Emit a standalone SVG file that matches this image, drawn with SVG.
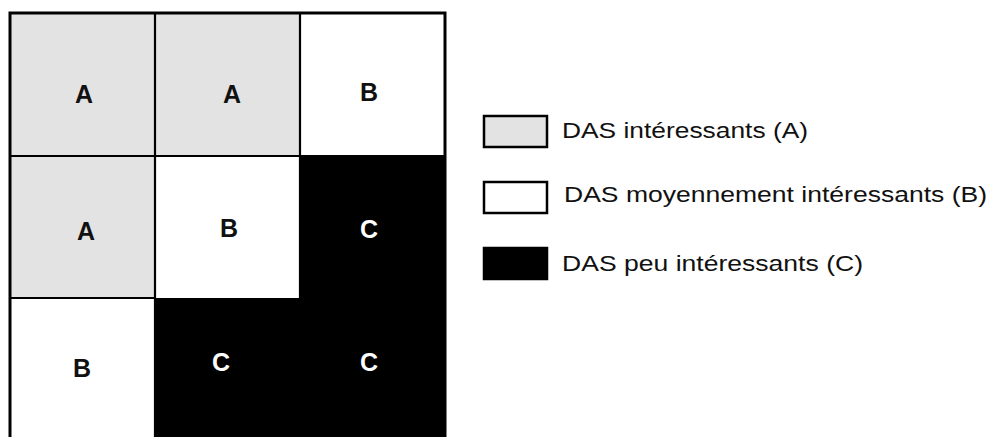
<svg xmlns="http://www.w3.org/2000/svg" width="995" height="437" viewBox="0 0 995 437">
<style>
.gray{fill:#e3e3e3}
.white{fill:#ffffff}
.black{fill:#000000}
.line{stroke:#000;stroke-width:2.2;fill:none}
.outer{stroke:#000;stroke-width:3;fill:none}
.cell{font-family:"Liberation Sans",Arial,sans-serif;font-weight:bold;font-size:25px;text-anchor:middle}
.dk{fill:#111}
.lt{fill:#fff}
.leg{font-family:"Liberation Sans",Arial,sans-serif;font-size:21.5px;fill:#111}
.box{stroke:#000;stroke-width:2.5}
</style>
<rect x="0" y="0" width="995" height="437" fill="#fff"/>
<g id="grid">
  <g id="cell-1-1"><rect class="gray" x="10" y="13" width="145" height="143"/><text class="cell dk" x="84" y="103">A</text></g>
  <g id="cell-1-2"><rect class="gray" x="155" y="13" width="145" height="143"/><text class="cell dk" x="232" y="103">A</text></g>
  <g id="cell-1-3"><rect class="white" x="300" y="13" width="145" height="143"/><text class="cell dk" x="369" y="101">B</text></g>
  <g id="cell-2-1"><rect class="gray" x="10" y="156" width="145" height="142"/><text class="cell dk" x="86" y="240">A</text></g>
  <g id="cell-2-2"><rect class="white" x="155" y="156" width="145" height="142"/><text class="cell dk" x="229" y="237">B</text></g>
  <g id="cell-2-3"><rect class="black" x="300" y="156" width="145" height="142"/><text class="cell lt" x="369" y="238">C</text></g>
  <g id="cell-3-1"><rect class="white" x="10" y="298" width="145" height="139"/><text class="cell dk" x="82" y="377">B</text></g>
  <g id="cell-3-2"><rect class="black" x="155" y="298" width="145" height="139"/><text class="cell lt" x="221" y="371">C</text></g>
  <g id="cell-3-3"><rect class="black" x="300" y="298" width="145" height="139"/><text class="cell lt" x="369" y="371">C</text></g>
  <g id="gridlines">
    <path class="line" d="M155,13 V437 M300,13 V298 M10,156 H445 M10,298 H155"/>
    <path class="outer" d="M10,437 V13 H445 V437"/>
  </g>
</g>
<g id="legend">
  <g id="legend-a"><rect class="gray box" x="484" y="116" width="63" height="31"/><text class="leg" x="562" y="138" textLength="246" lengthAdjust="spacingAndGlyphs">DAS intéressants (A)</text></g>
  <g id="legend-b"><rect class="white box" x="484" y="182" width="63" height="31"/><text class="leg" x="564" y="202" textLength="423" lengthAdjust="spacingAndGlyphs">DAS moyennement intéressants (B)</text></g>
  <g id="legend-c"><rect class="black box" x="484" y="248" width="63" height="31"/><text class="leg" x="562" y="271" textLength="301" lengthAdjust="spacingAndGlyphs">DAS peu intéressants (C)</text></g>
</g>
</svg>
